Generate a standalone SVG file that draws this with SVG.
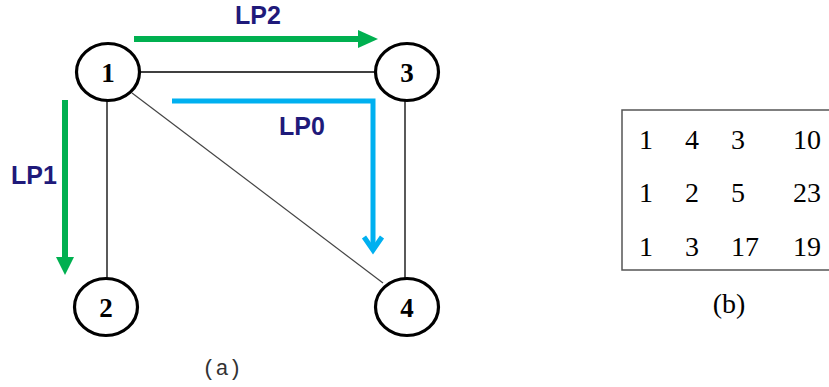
<svg xmlns="http://www.w3.org/2000/svg" width="829" height="387" viewBox="0 0 829 387">
<style>
.node{fill:#fff;stroke:#000;stroke-width:3.2}
.nl{font-family:"Liberation Serif",serif;font-weight:bold;font-size:27px;fill:#000;text-anchor:middle}
.edge{stroke:#000;stroke-width:1.3;fill:none}
.diag{stroke:#444;stroke-width:1.2;fill:none}
.lp{font-family:"Liberation Sans",Arial,sans-serif;font-weight:bold;font-size:25px;fill:#1F1A7A}
.green{stroke:#00B050;stroke-width:6;fill:none}
.blue{stroke:#00B0F0;stroke-width:5;fill:none}
.num{font-family:"Liberation Serif",serif;font-size:28px;fill:#000}
</style>
<rect width="829" height="387" fill="#fff"/>
<g id="connectors">
<line class="edge" x1="139" y1="72" x2="375" y2="72"/>
<line class="edge" x1="107" y1="100" x2="107" y2="278"/>
<line class="edge" x1="405" y1="100" x2="405" y2="278"/>
<line class="diag" x1="132" y1="93" x2="383" y2="283"/>
</g>
<g id="lp2">
<line class="green" x1="134" y1="39" x2="360" y2="39"/>
<polygon points="358,30 378,39 358,48" fill="#00B050"/>
<text class="lp" x="258" y="24" text-anchor="middle">LP2</text>
</g>
<g id="lp1">
<line class="green" x1="65" y1="100" x2="65" y2="258"/>
<polygon points="56,257 74,257 65,275" fill="#00B050"/>
<text class="lp" x="34" y="184" text-anchor="middle">LP1</text>
</g>
<g id="lp0">
<polyline class="blue" points="172,101 373,101 373,250"/>
<polyline class="blue" points="364,237 373,250 382,237" stroke-linejoin="miter"/>
<text class="lp" x="302" y="135" text-anchor="middle">LP0</text>
</g>
<g id="n1"><ellipse class="node" cx="108" cy="72" rx="31.5" ry="28.5"/><text class="nl" x="108" y="82">1</text></g>
<g id="n2"><ellipse class="node" cx="106" cy="307" rx="31.5" ry="28.5"/><text class="nl" x="106" y="317">2</text></g>
<g id="n3"><ellipse class="node" cx="407" cy="72" rx="31.5" ry="28.5"/><text class="nl" x="407" y="82">3</text></g>
<g id="n4"><ellipse class="node" cx="407" cy="307" rx="31.5" ry="28.5"/><text class="nl" x="407" y="317">4</text></g>
<text x="222" y="375" font-family="Liberation Mono,monospace" font-size="22" fill="#333" text-anchor="middle">(a)</text>
<g id="table">
<rect x="622" y="110" width="215" height="160" fill="none" stroke="#555" stroke-width="1.5"/>
<g class="num">
<text x="639" y="149">1</text><text x="685" y="149">4</text><text x="731" y="149">3</text><text x="793" y="149">10</text>
<text x="639" y="202">1</text><text x="685" y="202">2</text><text x="731" y="202">5</text><text x="793" y="202">23</text>
<text x="639" y="256">1</text><text x="685" y="256">3</text><text x="731" y="256">17</text><text x="793" y="256">19</text>
</g>
<text class="num" x="729" y="313" text-anchor="middle">(b)</text>
</g>
</svg>
